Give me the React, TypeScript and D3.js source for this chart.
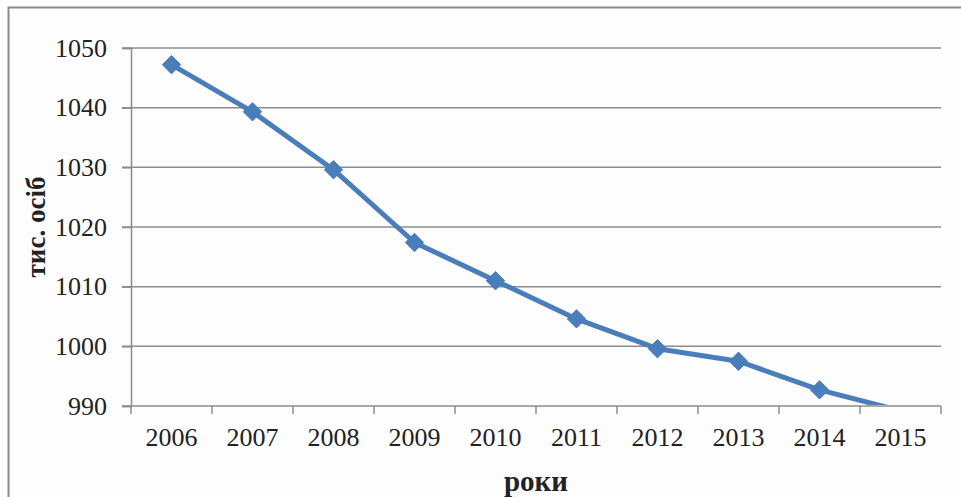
import { useEffect, useRef } from "react";
import * as d3 from "d3";

const years = ["2006", "2007", "2008", "2009", "2010", "2011", "2012", "2013", "2014", "2015"];
const population = [1047.2, 1039.3, 1029.6, 1017.4, 1011.0, 1004.6, 999.6, 997.5, 992.7, 989.2];
const yTicks = [990, 1000, 1010, 1020, 1030, 1040, 1050];

const W = 961;
const H = 497;

export default function App() {
  const svgRef = useRef<SVGSVGElement>(null);

  useEffect(() => {
    if (!svgRef.current) return;
    const svg = d3.select(svgRef.current);
    svg.selectAll("*").remove();

    const left = 131;
    const right = 941;
    const top = 48;
    const bottom = 406;
    const font = "'Liberation Serif', 'Times New Roman', serif";
    const ink = "#222";

    svg.append("rect").attr("width", W).attr("height", H).attr("fill", "#fdfdfd");
    // outer chart border (right and bottom cut off by the picture)
    svg
      .append("rect")
      .attr("x", 8.5)
      .attr("y", 7.5)
      .attr("width", W + 20)
      .attr("height", H + 20)
      .attr("fill", "none")
      .attr("stroke", "#8a8a8a")
      .attr("stroke-width", 2);

    const x = d3.scaleBand<string>().domain(years).range([left, right]);
    const y = d3.scaleLinear().domain([990, 1050]).range([bottom, top]);

    svg
      .append("g")
      .selectAll("line")
      .data(yTicks.filter((t) => t !== 990))
      .join("line")
      .attr("x1", left - 9)
      .attr("x2", right)
      .attr("y1", (d) => y(d))
      .attr("y2", (d) => y(d))
      .attr("stroke", "#8c8c8c")
      .attr("stroke-width", 1.5);

    // y axis
    const yAxis = svg
      .append("g")
      .attr("transform", `translate(${left},0)`)
      .call(d3.axisLeft(y).tickValues(yTicks).tickSize(9).tickPadding(15).tickFormat(d3.format("d")));
    yAxis.select(".domain").attr("stroke", "#8c8c8c").attr("stroke-width", 1.5);
    yAxis.selectAll("line").attr("stroke", "#8c8c8c").attr("stroke-width", 1.5);
    yAxis
      .selectAll("text")
      .attr("font-family", font)
      .attr("font-size", 26)
      .attr("fill", ink);

    // x axis with ticks between categories
    const xAxis = svg.append("g").attr("transform", `translate(0,${bottom})`);
    xAxis
      .append("line")
      .attr("x1", left - 9)
      .attr("x2", right)
      .attr("stroke", "#8c8c8c")
      .attr("stroke-width", 1.5);
    const bounds = [...years.map((d) => x(d)!), right];
    xAxis
      .selectAll("line.tick")
      .data(bounds)
      .join("line")
      .attr("class", "tick")
      .attr("x1", (d) => d)
      .attr("x2", (d) => d)
      .attr("y1", 0)
      .attr("y2", 8)
      .attr("stroke", "#8c8c8c")
      .attr("stroke-width", 1.5);
    xAxis
      .selectAll("text")
      .data(years)
      .join("text")
      .attr("x", (d) => x(d)! + x.bandwidth() / 2)
      .attr("y", 40)
      .attr("text-anchor", "middle")
      .attr("font-family", font)
      .attr("font-size", 26)
      .attr("fill", ink)
      .text((d) => d);

    // axis titles
    svg
      .append("text")
      .attr("x", (left + right) / 2)
      .attr("y", 491)
      .attr("text-anchor", "middle")
      .attr("font-family", font)
      .attr("font-weight", "bold")
      .attr("font-size", 29)
      .attr("fill", ink)
      .text("роки");
    svg
      .append("text")
      .attr("transform", `translate(45,${(top + bottom) / 2}) rotate(-90)`)
      .attr("text-anchor", "middle")
      .attr("font-family", font)
      .attr("font-weight", "bold")
      .attr("font-size", 27)
      .attr("fill", ink)
      .text("тис. осіб");

    // series, clipped to plot area
    svg
      .append("clipPath")
      .attr("id", "plot-clip")
      .append("rect")
      .attr("x", left)
      .attr("y", top - 20)
      .attr("width", right - left)
      .attr("height", bottom - top + 19);

    const pts = years.map((d, i) => ({ year: d, v: population[i] }));
    const series = svg.append("g").attr("clip-path", "url(#plot-clip)");
    const line = d3
      .line<(typeof pts)[0]>()
      .x((d) => x(d.year)! + x.bandwidth() / 2)
      .y((d) => y(d.v));
    series
      .append("path")
      .datum(pts)
      .attr("d", line)
      .attr("fill", "none")
      .attr("stroke", "#4a7ebb")
      .attr("stroke-width", 5)
      .attr("stroke-linejoin", "round");
    // points below the axis minimum get no marker (as in the source chart)
    series
      .selectAll("path.marker")
      .data(pts.filter((d) => d.v >= y.domain()[0]))
      .join("path")
      .attr("class", "marker")
      .attr("d", d3.symbol(d3.symbolDiamond2, 215))
      .attr("transform", (d) => `translate(${x(d.year)! + x.bandwidth() / 2},${y(d.v)})`)
      .attr("fill", "#4a7ebb")
      .attr("stroke", "#4a7ebb")
      .attr("stroke-width", 1);
  }, []);

  return (
    <svg
      ref={svgRef}
      width={W}
      height={H}
      style={{ position: "absolute", left: 0, top: 0, display: "block" }}
    />
  );
}
